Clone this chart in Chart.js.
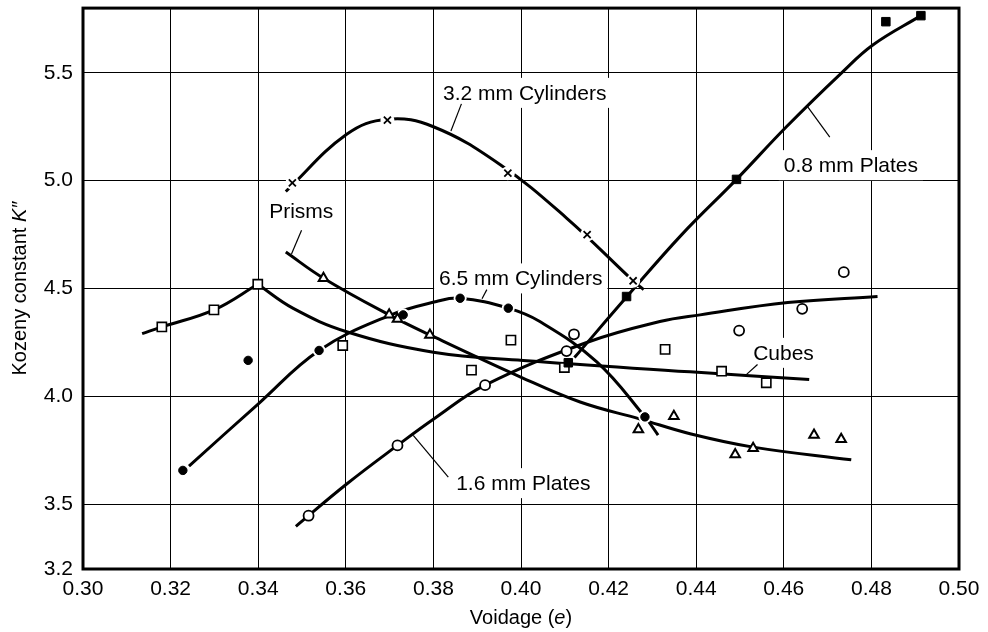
<!DOCTYPE html>
<html lang="en">
<head>
<meta charset="UTF-8">
<title>Kozeny constant K'' against voidage</title>
<script src="https://cdn.jsdelivr.net/npm/chart.js@4.4.1/dist/chart.umd.min.js"></script>
<style>
  html, body { margin: 0; padding: 0; background: #fff; }
</style>
</head>
<body>
<canvas id="kozenyChart" width="988" height="632"></canvas>

<script>
    // Axis ticks
    const xTicks = [0.30, 0.32, 0.34, 0.36, 0.38, 0.40, 0.42, 0.44, 0.46, 0.48, 0.50];
    const yTicks = [3.2, 3.5, 4.0, 4.5, 5.0, 5.5];

    // Measured points (markers)
    const plates08X = [0.4108, 0.4241, 0.4492, 0.4833, 0.4913];
    const plates08Y = [4.156, 4.463, 5.006, 5.737, 5.765];

    const cyl32X = [0.3478, 0.3695, 0.3970, 0.4151, 0.4256];
    const cyl32Y = [4.990, 5.281, 5.035, 4.750, 4.536];

    const cyl65X = [0.3228, 0.3377, 0.3539, 0.3731, 0.3861, 0.3971, 0.4283];
    const cyl65Y = [3.657, 4.167, 4.213, 4.378, 4.455, 4.409, 3.905];

    const prismsX = [0.3549, 0.3699, 0.3718, 0.3792, 0.4268, 0.4349, 0.4489, 0.4530, 0.4669, 0.4731];
    const prismsY = [4.548, 4.378, 4.359, 4.285, 3.847, 3.908, 3.731, 3.760, 3.821, 3.802];

    const cubesX = [0.3180, 0.3299, 0.3399, 0.3593, 0.3887, 0.3977, 0.4099, 0.4329, 0.4458, 0.4560];
    const cubesY = [4.322, 4.401, 4.520, 4.236, 4.122, 4.261, 4.134, 4.218, 4.117, 4.063];

    const plates16X = [0.3515, 0.3718, 0.3918, 0.4104, 0.4121, 0.4498, 0.4642, 0.4737];
    const plates16Y = [3.447, 3.773, 4.052, 4.210, 4.288, 4.305, 4.406, 4.576];

    // Fitted curves
    const plates08CurveX = [0.4122, 0.4242, 0.4367, 0.4492, 0.4606, 0.4732, 0.4804, 0.4913];
    const plates08CurveY = [4.180, 4.463, 4.750, 5.006, 5.250, 5.500, 5.630, 5.765];

    const cyl32CurveX = [0.3463, 0.3602, 0.3695, 0.3800, 0.3952, 0.4104, 0.4256, 0.4280];
    const cyl32CurveY = [4.950, 5.215, 5.285, 5.250, 5.075, 4.827, 4.536, 4.495];

    const cyl65CurveX = [0.3242, 0.3401, 0.3539, 0.3699, 0.3807, 0.3861, 0.3971, 0.4043, 0.4173, 0.4283, 0.4313];
    const cyl65CurveY = [3.677, 3.967, 4.213, 4.375, 4.440, 4.455, 4.409, 4.347, 4.160, 3.905, 3.821];

    const prismsCurveX = [0.3463, 0.3549, 0.3699, 0.3792, 0.3998, 0.4135, 0.4272, 0.4386, 0.4530, 0.4754];
    const prismsCurveY = [4.669, 4.548, 4.378, 4.285, 4.091, 3.974, 3.895, 3.827, 3.765, 3.706];

    const cubesRiseX = [0.3135, 0.3180, 0.3299, 0.3399];
    const cubesRiseY = [4.291, 4.322, 4.401, 4.520];
    const cubesFallX = [0.3399, 0.3480, 0.3602, 0.3800, 0.4005, 0.4386, 0.4658];
    const cubesFallY = [4.520, 4.408, 4.300, 4.205, 4.166, 4.114, 4.078];

    const plates16CurveX = [0.3486, 0.3602, 0.3718, 0.3804, 0.3918, 0.4150, 0.4317, 0.4409, 0.4609, 0.4814];
    const plates16CurveY = [3.398, 3.594, 3.773, 3.900, 4.052, 4.250, 4.347, 4.378, 4.435, 4.463];

    // Curve labels: text, left/centre anchor and leader line (data units)
    const notes = [
        { text: '3.2 mm Cylinders', at: [0.3822, 5.407], lead: [0.3864, 5.356, 0.3840, 5.230] },
        { text: '0.8 mm Plates',    at: [0.4600, 5.072], lead: [0.4653, 5.347, 0.4705, 5.202] },
        { text: 'Prisms',           at: [0.3425, 4.858], lead: [0.3499, 4.770, 0.3476, 4.660] },
        { text: '6.5 mm Cylinders', at: [0.3813, 4.547], lead: [0.3922, 4.495, 0.3911, 4.453] },
        { text: 'Cubes',            at: [0.4530, 4.202], lead: [0.4540, 4.148, 0.4515, 4.102] },
        { text: '1.6 mm Plates',    at: [0.3852, 3.598], lead: [0.3754, 3.819, 0.3834, 3.626] }
    ];

    const fontFamily = "'Liberation Sans', Arial, Helvetica, sans-serif";
    const ink = '#000';

    const pairs = (xs, ys) => xs.map((x, i) => ({ x: x, y: ys[i] }));

    function markerSet(xs, ys, style, radius, fill, width) {
        return {
            data: pairs(xs, ys),
            showLine: false,
            pointStyle: style,
            pointRadius: radius,
            pointBackgroundColor: fill,
            pointBorderColor: ink,
            pointBorderWidth: width,
            order: 0
        };
    }

    // white gap in the curve around a marker
    function haloSet(xs, ys, radius) {
        return {
            data: pairs(xs, ys),
            showLine: false,
            pointStyle: 'circle',
            pointRadius: radius,
            pointBackgroundColor: '#fff',
            pointBorderWidth: 0,
            order: 1
        };
    }

    function curveSet(xs, ys) {
        return {
            data: pairs(xs, ys),
            showLine: true,
            borderColor: ink,
            borderWidth: 3,
            pointRadius: 0,
            tension: 0.4,
            order: 2
        };
    }

    const datasets = [
        markerSet(plates08X, plates08Y, 'rect', 6, ink, 1),
        markerSet(cyl32X, cyl32Y, 'crossRot', 5, ink, 1.8),
        markerSet(cyl65X, cyl65Y, 'circle', 4.2, ink, 1),
        markerSet(prismsX, prismsY, 'triangle', 5.5, '#fff', 2),
        markerSet(cubesX, cubesY, 'rect', 6.5, '#fff', 1.6),
        markerSet(plates16X, plates16Y, 'circle', 5, '#fff', 1.8),
        haloSet(cyl32X, cyl32Y, 7),
        haloSet(cyl65X, cyl65Y, 6.5),
        curveSet(plates08CurveX, plates08CurveY),
        curveSet(cyl32CurveX, cyl32CurveY),
        curveSet(cyl65CurveX, cyl65CurveY),
        curveSet(prismsCurveX, prismsCurveY),
        curveSet(cubesRiseX, cubesRiseY),
        curveSet(cubesFallX, cubesFallY),
        curveSet(plates16CurveX, plates16CurveY)
    ];

    // draws text pieces (normal / italic) centred on 0,0
    function mixedText(ctx, parts, size) {
        let total = 0;
        parts.forEach(p => {
            ctx.font = (p.italic ? 'italic ' : '') + size + 'px ' + fontFamily;
            p.w = ctx.measureText(p.t).width;
            total += p.w;
        });
        let x = -total / 2;
        parts.forEach(p => {
            ctx.font = (p.italic ? 'italic ' : '') + size + 'px ' + fontFamily;
            ctx.fillText(p.t, x, 0);
            x += p.w;
        });
    }

    const decorations = {
        id: 'decorations',
        beforeDatasetsDraw(chart) {
            const { ctx, scales: { x, y } } = chart;
            ctx.save();
            ctx.font = '21px ' + fontFamily;
            ctx.textBaseline = 'middle';
            ctx.textAlign = 'left';
            notes.forEach(n => {
                const left = x.getPixelForValue(n.at[0]);
                const cy = y.getPixelForValue(n.at[1]);
                const w = ctx.measureText(n.text).width;
                ctx.fillStyle = '#fff';
                ctx.fillRect(left - 5, cy - 15, w + 10, 30);
                ctx.fillStyle = ink;
                ctx.fillText(n.text, left, cy + 1);
                ctx.beginPath();
                ctx.lineWidth = 1.2;
                ctx.strokeStyle = ink;
                ctx.moveTo(x.getPixelForValue(n.lead[0]), y.getPixelForValue(n.lead[1]));
                ctx.lineTo(x.getPixelForValue(n.lead[2]), y.getPixelForValue(n.lead[3]));
                ctx.stroke();
            });
            ctx.restore();
        },
        afterDraw(chart) {
            const { ctx, chartArea: a } = chart;
            ctx.save();
            // plot frame
            ctx.lineWidth = 3;
            ctx.strokeStyle = ink;
            ctx.strokeRect(a.left, a.top, a.right - a.left, a.bottom - a.top);

            // axis titles
            ctx.fillStyle = ink;
            ctx.textBaseline = 'middle';
            ctx.textAlign = 'left';
            ctx.save();
            ctx.translate((a.left + a.right) / 2, 618);
            mixedText(ctx, [{ t: 'Voidage (' }, { t: 'e', italic: true }, { t: ')' }], 20);
            ctx.restore();

            ctx.save();
            ctx.translate(20, (a.top + a.bottom) / 2);
            ctx.rotate(-Math.PI / 2);
            mixedText(ctx, [{ t: 'Kozeny constant ' }, { t: 'K\u2033', italic: true }], 20);
            ctx.restore();
            ctx.restore();
        }
    };

    const ctx = document.getElementById('kozenyChart').getContext('2d');
    new Chart(ctx, {
        type: 'scatter',
        data: { datasets: datasets },
        options: {
            responsive: false,
            animation: false,
            events: [],
            devicePixelRatio: 1,
            layout: { padding: { left: 0, top: 7, right: 29, bottom: 0 } },
            plugins: {
                legend: { display: false },
                tooltip: { enabled: false }
            },
            scales: {
                x: {
                    type: 'linear',
                    min: 0.30,
                    max: 0.50,
                    afterBuildTicks: axis => { axis.ticks = xTicks.map(v => ({ value: v })); },
                    afterFit: axis => {
                        axis.height = 63;
                        axis.paddingLeft = 0;
                        axis.paddingRight = 0;
                    },
                    ticks: {
                        callback: v => v.toFixed(2),
                        color: ink,
                        font: { family: fontFamily, size: 21 },
                        padding: 8,
                        maxRotation: 0,
                        autoSkip: false
                    },
                    grid: { color: ink, lineWidth: 1, drawTicks: false },
                    border: { display: false }
                },
                y: {
                    type: 'linear',
                    min: 3.2,
                    max: 5.8,
                    afterBuildTicks: axis => { axis.ticks = yTicks.map(v => ({ value: v })); },
                    afterFit: axis => {
                        axis.width = 83;
                        axis.paddingTop = 0;
                        axis.paddingBottom = 0;
                    },
                    ticks: {
                        callback: v => v.toFixed(1),
                        color: ink,
                        font: { family: fontFamily, size: 21 },
                        padding: 10,
                        autoSkip: false
                    },
                    grid: { color: ink, lineWidth: 1, drawTicks: false },
                    border: { display: false }
                }
            }
        },
        plugins: [decorations]
    });
</script>
</body>
</html>
